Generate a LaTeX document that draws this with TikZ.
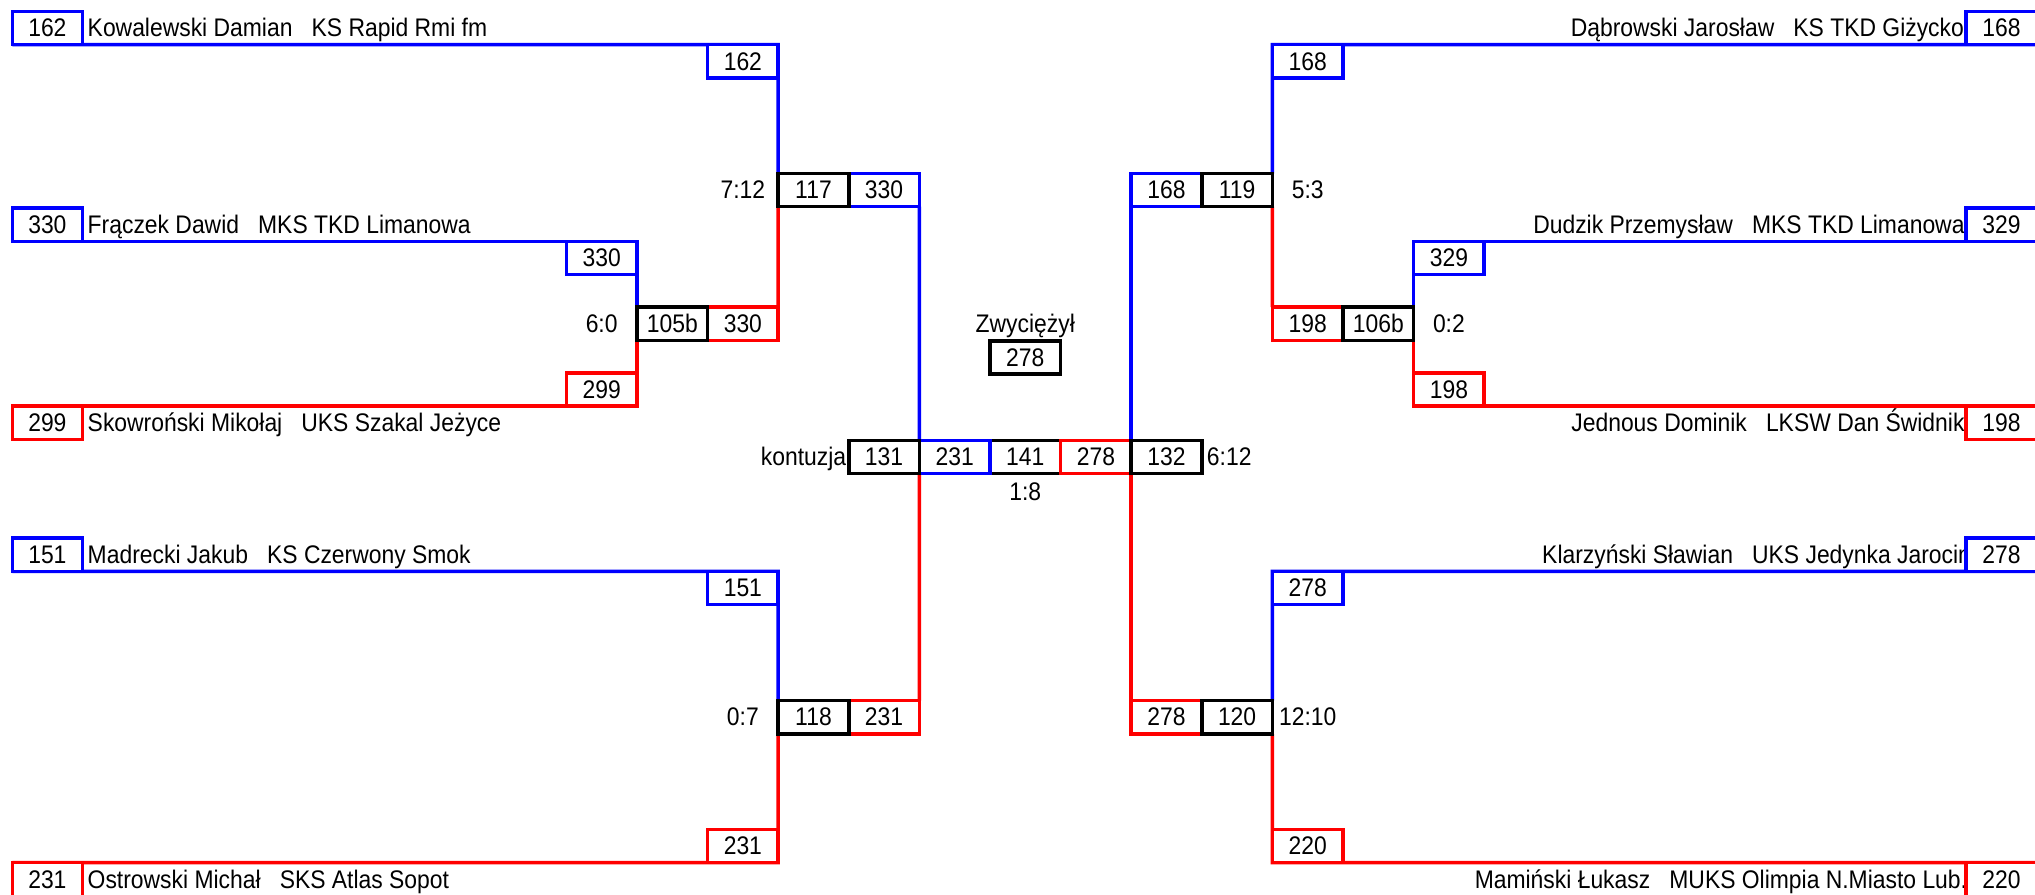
\documentclass[tikz,border=0pt]{standalone}
\usepackage{fontspec}
\setmainfont{Liberation Sans}
\newfontfamily\brkfam[FakeStretch=0.9]{Liberation Sans}
\newcommand\brkfont{\brkfam\fontsize{19.6}{23}\selectfont}
\pgfdeclarelayer{bg}
\pgfdeclarelayer{lines}
\pgfsetlayers{bg,lines,main}
\definecolor{bblue}{RGB}{0,0,255}
\definecolor{rred}{RGB}{255,0,0}
\begin{document}
\begin{tikzpicture}[x=1pt,y=-1pt,
  bx/.style={draw=#1, line width=2.7pt, minimum width=54.4pt, minimum height=25.6pt,
             inner sep=0pt, outer sep=0pt, fill=white, font=\brkfont},
  bx/.default=black,
  pl/.style={bx=#1, minimum width=54pt},
  pr/.style={bx=#1, minimum width=55pt},
  ln/.style={draw=#1, line width=2.7pt},
  lbl/.style={inner sep=0pt, outer sep=0pt, font=\brkfont}]

\begin{pgfonlayer}{bg}
\fill[white] (0,0) rectangle (1568,689.6);
\end{pgfonlayer}
\useasboundingbox (0,0) rectangle (1568,689.6);

% ---- final match box drawn first (its side edges are covered)
\node[bx] (m141) at (790,352.2) {141};

% ---- coloured boxes
% left top
\node[pl=bblue] (p162) at (36.5,21.6) {162};
\node[bx=bblue] (q162) at (572.4,47.2) {162};
\node[bx=bblue] (w117) at (681.2,146.5) {330};
\node[pl=bblue] (p330) at (36.5,173.2) {330};
\node[bx=bblue] (q330) at (463.6,198.8) {330};
\node[bx=rred] (w105) at (572.4,249.5) {330};
\node[bx=rred] (q299) at (463.6,300.2) {299};
\node[pl=rred] (p299) at (36.5,325.8) {299};
% left bottom
\node[pl=bblue] (p151) at (36.5,427.5) {151};
\node[bx=bblue] (q151) at (572.4,453.1) {151};
\node[bx=rred] (w118) at (681.2,552.6) {231};
\node[bx=rred] (q231) at (572.4,651.9) {231};
\node[pl=rred, minimum height=27pt] (p231) at (36.5,678.2) {231};
% centre
\node[bx=bblue] (f231) at (735.6,352.2) {231};
\node[bx=rred] (f278) at (844.4,352.2) {278};
% right top
\node[pr=bblue] (p168) at (1542.2,21.6) {168};
\node[bx=bblue] (q168) at (1007.6,47.2) {168};
\node[bx=bblue] (w119) at (898.8,146.5) {168};
\node[pr=bblue] (p329) at (1542.2,173.2) {329};
\node[bx=bblue] (q329) at (1116.4,198.8) {329};
\node[bx=rred] (w106) at (1007.6,249.5) {198};
\node[bx=rred] (q198) at (1116.4,300.2) {198};
\node[pr=rred] (p198) at (1542.2,325.8) {198};
% right bottom
\node[pr=bblue] (p278) at (1542.2,427.5) {278};
\node[bx=bblue] (q278) at (1007.6,453.1) {278};
\node[bx=rred] (w120) at (898.8,552.6) {278};
\node[bx=rred] (q220) at (1007.6,651.9) {220};
\node[pr=rred, minimum height=27pt] (p220) at (1542.2,678.2) {220};

% ---- black match boxes
\node[bx] (m117) at (626.8,146.5) {117};
\node[bx] (m105) at (518,249.5) {105b};
\node[bx] (m118) at (626.8,552.6) {118};
\node[bx] (m131) at (681.2,352.2) {131};
\node[bx] (m132) at (898.8,352.2) {132};
\node[bx] (m119) at (953.2,146.5) {119};
\node[bx] (m106) at (1062,249.5) {106b};
\node[bx] (m120) at (953.2,552.6) {120};
\node[bx] (win) at (790,275.5) {278};

% ---- connectors
\begin{pgfonlayer}{lines}
\draw[ln=bblue] (p162.south west) -- (q162.north east) -- (m117.north west);
\draw[ln=rred]  (m117.south west) -- (w105.north east);
\draw[ln=bblue] (p330.south west) -- (q330.north east) -- (m105.north west);
\draw[ln=rred]  (m105.south west) -- (q299.south east) -- (p299.north west);
\draw[ln=bblue] (w117.south east) -- (f231.north west);
\draw[ln=rred]  (f231.south west) -- (w118.north east);
\draw[ln=bblue] (p151.south west) -- (q151.north east) -- (m118.north west);
\draw[ln=rred]  (m118.south west) -- (q231.south east) -- (p231.north west);

\draw[ln=bblue] (p168.south east) -- (q168.north west) -- (m119.north east);
\draw[ln=rred]  (m119.south east) -- (w106.north west);
\draw[ln=bblue] (p329.south east) -- (q329.north west) -- (m106.north east);
\draw[ln=rred]  (m106.south east) -- (q198.south west) -- (p198.north east);
\draw[ln=bblue] (w119.south west) -- (m132.north west);
\draw[ln=rred]  (m132.south west) -- (w120.north west);
\draw[ln=bblue] (p278.south east) -- (q278.north west) -- (m120.north east);
\draw[ln=rred]  (m120.south east) -- (q220.south west) -- (p220.north east);
\end{pgfonlayer}

% ---- scores and labels
\node[lbl, anchor=base] (s117) at ([xshift=-54.4pt]m117.base) {7:12};
\node[lbl, anchor=base] (s105) at ([xshift=-54.4pt]m105.base) {6:0};
\node[lbl, anchor=base] (s118) at ([xshift=-54.4pt]m118.base) {0:7};
\node[lbl, anchor=base east] (s131) at ([xshift=-2pt]m131.base west) {kontuzja};
\node[lbl, anchor=base] (s141) at ([yshift=-20.5pt]m141.south) {1:8};
\node[lbl, anchor=base west] (s132) at ([xshift=4pt]m132.base east) {6:12};
\node[lbl, anchor=base] (s119) at ([xshift=54.4pt]m119.base) {5:3};
\node[lbl, anchor=base] (s106) at ([xshift=54.4pt]m106.base) {0:2};
\node[lbl, anchor=base] (s120) at ([xshift=54.4pt]m120.base) {12:10};
\node[lbl, anchor=base] (zw) at (win.center |- m105.base) {Zwyciężył};

% ---- competitor names
\begin{pgfonlayer}{bg}
\node[lbl, anchor=base west] (n162) at ([xshift=4.1pt]p162.base east) {Kowalewski Damian\ \ \ KS Rapid Rmi fm};
\node[lbl, anchor=base west] (n330) at ([xshift=4.1pt]p330.base east) {Frączek Dawid\ \ \ MKS TKD Limanowa};
\node[lbl, anchor=base west] (n299) at ([xshift=4.1pt]p299.base east) {Skowroński Mikołaj\ \ \ UKS Szakal Jeżyce};
\node[lbl, anchor=base west] (n151) at ([xshift=4.1pt]p151.base east) {Madrecki Jakub\ \ \ KS Czerwony Smok};
\node[lbl, anchor=base west] (n231) at ([xshift=4.1pt]p231.base east) {Ostrowski Michał\ \ \ SKS Atlas Sopot};
\node[lbl, anchor=base east] (n168) at ([xshift=-1.5pt]p168.base west) {Dąbrowski Jarosław\ \ \ KS TKD Giżycko};
\node[lbl, anchor=base east] (n329) at ([xshift=-1pt]p329.base west) {Dudzik Przemysław\ \ \ MKS TKD Limanowa};
\node[lbl, anchor=base east] (n198) at ([xshift=-1pt]p198.base west) {Jednous Dominik\ \ \ LKSW Dan Świdnik};
\node[lbl, anchor=base east] (n278) at ([xshift=4pt]p278.base west) {Klarzyński Sławian\ \ \ UKS Jedynka Jarocin};
\node[lbl, anchor=base east] (n220) at ([xshift=1pt]p220.base west) {Mamiński Łukasz\ \ \ MUKS Olimpia N.Miasto Lub.};
\end{pgfonlayer}
\end{tikzpicture}
\end{document}
